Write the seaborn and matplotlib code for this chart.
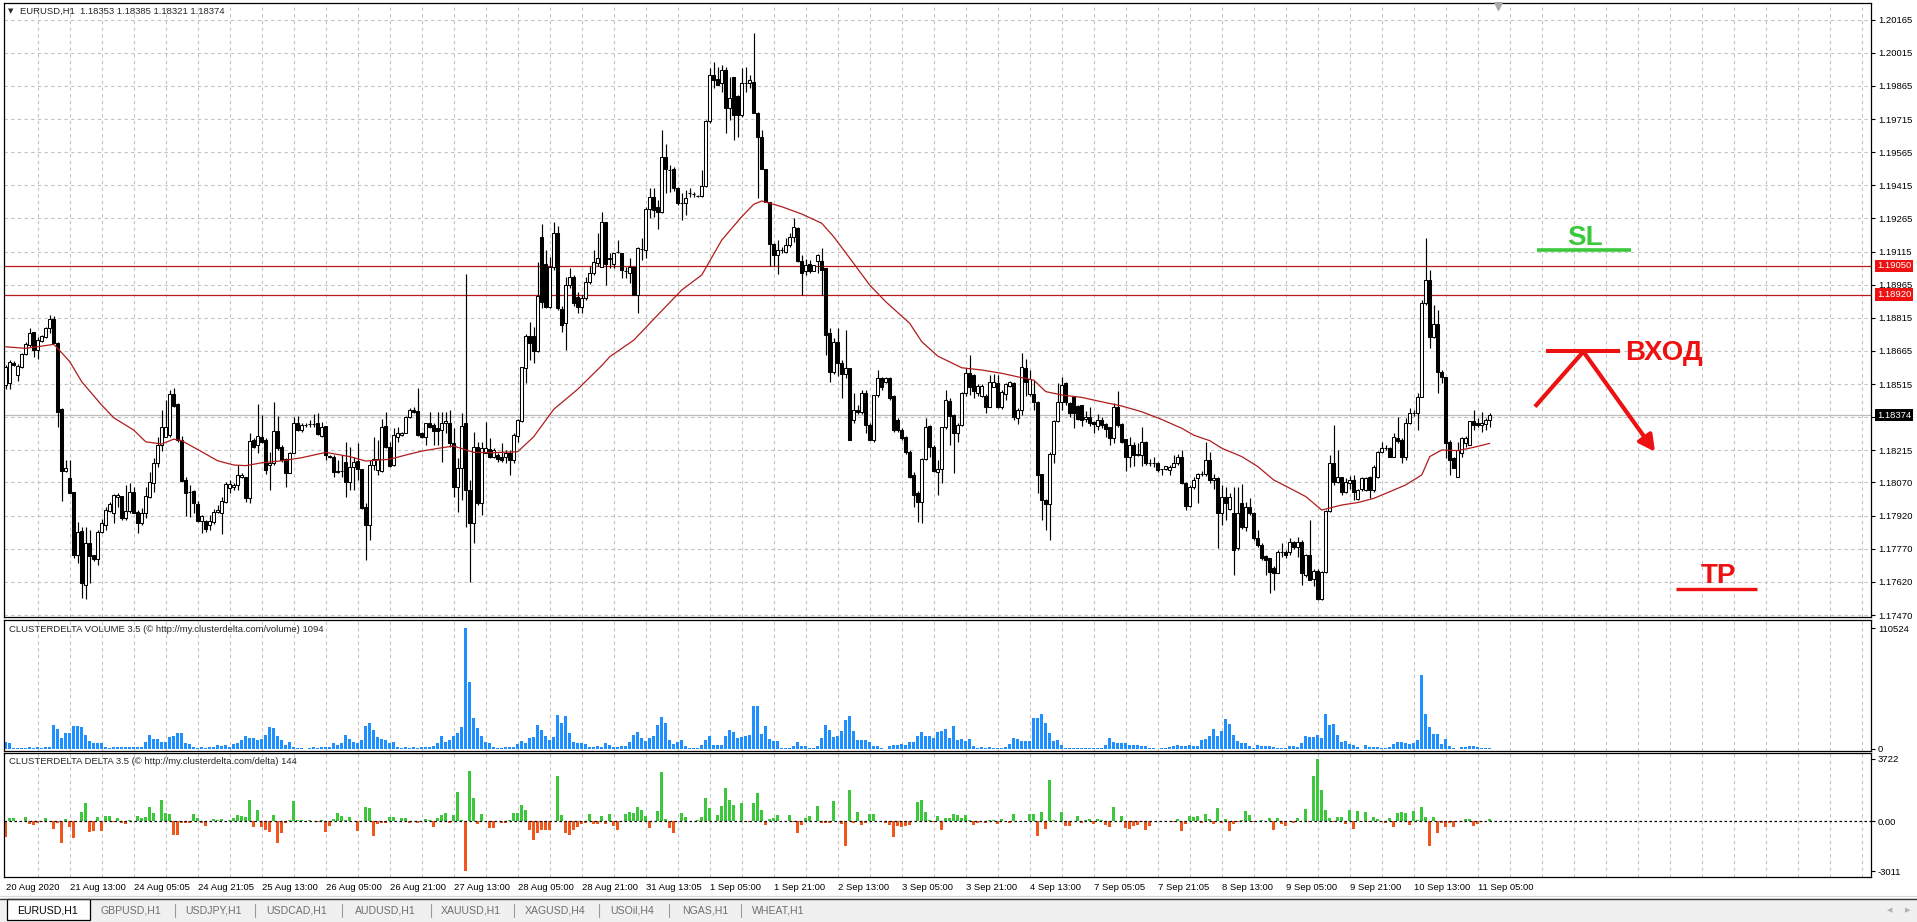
"""
EURUSD H1 (MT4 look) with ClusterDelta volume / delta sub-windows.
Prices are kept as points above 1.17000 (1 point = 0.00001).
Output: out.png
"""
import numpy as np
import matplotlib
matplotlib.use("Agg")
import matplotlib.pyplot as plt
import matplotlib.transforms as mtransforms
from matplotlib.patches import Rectangle
import seaborn as sns

# ── data ─────────────────────────────────────────────────────────────────────
BASE = 1.17
PT = 1e-5

OPEN_PTS = [
    1511, 1518, 1612, 1556, 1591, 1651, 1692, 1752, 1669, 1712, 1730, 1767, 1808, 1703, 1402, 1123,
    1091, 1027, 741, 852, 606, 794, 740, 722, 847, 877, 941, 930, 1005, 1008, 907, 942,
    1027, 938, 885, 930, 1005, 1069, 1156, 1239, 1277, 1285, 1470, 1423, 1262, 1081, 1025, 1030,
    971, 897, 897, 877, 892, 938, 933, 980, 1043, 1051, 1058, 1096, 1093, 998, 1262, 1239,
    1277, 1262, 1149, 1159, 1303, 1232, 1175, 1114, 1205, 1340, 1307, 1330, 1333, 1335, 1338, 1280,
    1326, 1190, 1184, 1123, 1120, 1164, 1074, 1141, 1167, 1129, 960, 877, 1149, 1128, 1123, 1326,
    1232, 1149, 1277, 1285, 1295, 1365, 1398, 1395, 1292, 1277, 1338, 1330, 1315, 1307, 1338, 1341,
    1250, 1051, 1134, 1338, 1036, 885, 1232, 975, 1205, 1220, 1187, 1194, 1184, 1184, 1202, 1172,
    1280, 1350, 1587, 1733, 1733, 1667, 2180, 2060, 1866, 2047, 2200, 1854, 1790, 1964, 2002, 1910,
    1866, 1903, 1979, 2017, 2062, 2046, 2250, 2080, 2061, 2114, 2110, 2028, 2016, 2046, 1918, 2125,
    2122, 2307, 2363, 2318, 2295, 2541, 2484, 2488, 2401, 2336, 2333, 2381, 2375, 2366, 2366, 2412,
    2706, 2914, 2894, 2876, 2937, 2763, 2906, 2819, 2733, 2876, 2876, 2884, 2740, 2635, 2491, 2341,
    2149, 2099, 2122, 2114, 2144, 2179, 2220, 2074, 2028, 2057, 2028, 2073, 2073, 2039, 1745, 1571,
    1707, 1609, 1563, 1586, 1352, 1400, 1390, 1476, 1330, 1262, 1466, 1545, 1525, 1541, 1461, 1352,
    1307, 1277, 1209, 1103, 1020, 983, 1174, 1325, 1232, 1118, 1129, 1319, 1440, 1375, 1295, 1330,
    1473, 1567, 1556, 1473, 1461, 1461, 1413, 1503, 1521, 1410, 1470, 1508, 1521, 1360, 1400, 1586,
    1470, 1470, 1435, 1108, 990, 971, 1201, 1348, 1435, 1518, 1428, 1455, 1416, 1420, 1355, 1367,
    1345, 1325, 1352, 1334, 1319, 1269, 1410, 1334, 1265, 1183, 1239, 1194, 1194, 1254, 1159, 1159,
    1159, 1130, 1129, 1126, 1141, 1156, 1186, 1069, 963, 1051, 1089, 1108, 1108, 1172, 1081, 1089,
    933, 1006, 948, 933, 772, 976, 870, 960, 930, 817, 787, 737, 727, 681, 662, 757,
    757, 757, 802, 779, 802, 651, 742, 631, 671, 541, 666, 941, 1157, 1074, 1093, 1028,
    1068, 1081, 994, 1040, 1036, 1096, 1036, 1096, 1209, 1225, 1225, 1187, 1270, 1262, 1187, 1338,
    1383, 1386, 1458, 1881, 1987, 1730, 1787, 1572, 1549, 1255, 1179, 1093, 1202, 1247, 1240, 1348,
    1338, 1330, 1334, 1353,
]
HIGH_PTS = [
    1601, 1624, 1621, 1606, 1654, 1707, 1767, 1752, 1730, 1737, 1775, 1828, 1823, 1707, 1405, 1171,
    1171, 1027, 892, 870, 870, 855, 741, 855, 903, 960, 983, 1018, 1021, 1008, 1058, 1066,
    1051, 945, 953, 1051, 1119, 1179, 1277, 1398, 1443, 1488, 1496, 1431, 1282, 1096, 1058, 1036,
    987, 923, 900, 923, 950, 968, 1006, 1073, 1081, 1069, 1149, 1111, 1096, 1292, 1270, 1425,
    1375, 1270, 1209, 1436, 1371, 1239, 1179, 1209, 1368, 1371, 1337, 1337, 1352, 1381, 1386, 1345,
    1326, 1194, 1194, 1172, 1194, 1255, 1232, 1187, 1250, 1129, 975, 1172, 1277, 1262, 1356, 1390,
    1255, 1315, 1322, 1300, 1371, 1405, 1413, 1496, 1300, 1341, 1390, 1338, 1390, 1390, 1390, 1398,
    1315, 1179, 1386, 2014, 1081, 1300, 1255, 1255, 1345, 1270, 1224, 1202, 1247, 1217, 1217, 1292,
    1356, 1594, 1742, 1798, 1775, 2070, 2240, 2120, 2090, 2250, 2230, 1870, 2000, 2040, 2010, 1930,
    1920, 2000, 2050, 2120, 2200, 2295, 2250, 2107, 2110, 2167, 2110, 2046, 2088, 2046, 2135, 2175,
    2318, 2401, 2401, 2348, 2665, 2602, 2506, 2499, 2408, 2378, 2393, 2401, 2386, 2370, 2484, 2710,
    2944, 2974, 2952, 2959, 2952, 2906, 2906, 2823, 2944, 2952, 2914, 3103, 2748, 2665, 2491, 2341,
    2152, 2167, 2137, 2175, 2197, 2265, 2227, 2099, 2080, 2076, 2054, 2105, 2129, 2039, 1767, 1722,
    1767, 1624, 1760, 1586, 1473, 1420, 1488, 1488, 1337, 1466, 1579, 1548, 1548, 1548, 1466, 1360,
    1315, 1280, 1215, 1118, 1030, 1180, 1360, 1330, 1239, 1171, 1322, 1488, 1450, 1382, 1340, 1480,
    1586, 1647, 1563, 1515, 1515, 1470, 1556, 1563, 1556, 1488, 1518, 1530, 1525, 1405, 1657, 1631,
    1579, 1533, 1440, 1110, 995, 1209, 1352, 1518, 1548, 1526, 1432, 1461, 1420, 1420, 1395, 1410,
    1348, 1380, 1367, 1337, 1322, 1431, 1485, 1337, 1268, 1277, 1254, 1250, 1319, 1258, 1174, 1186,
    1162, 1132, 1146, 1149, 1194, 1198, 1216, 1072, 1058, 1096, 1111, 1120, 1255, 1209, 1110, 1095,
    1060, 1050, 1020, 1050, 1050, 1063, 980, 998, 935, 855, 795, 742, 730, 690, 764, 795,
    764, 817, 805, 825, 810, 745, 900, 680, 680, 670, 945, 1194, 1330, 1217, 1096, 1089,
    1100, 1104, 1040, 1095, 1095, 1100, 1149, 1213, 1255, 1240, 1230, 1295, 1368, 1270, 1360, 1405,
    1400, 1473, 1896, 2175, 2032, 1873, 1851, 1579, 1549, 1262, 1187, 1255, 1277, 1280, 1350, 1398,
    1360, 1390, 1360, 1385,
]
LOW_PTS = [
    1491, 1491, 1597, 1531, 1586, 1647, 1684, 1639, 1627, 1707, 1722, 1745, 1700, 1322, 987, 1119,
    1021, 726, 704, 545, 541, 613, 716, 696, 842, 855, 938, 885, 960, 900, 900, 930,
    930, 842, 877, 907, 998, 1025, 1141, 1214, 1277, 1277, 1413, 1254, 1073, 918, 915, 930,
    892, 839, 847, 855, 880, 933, 837, 975, 1021, 1036, 1036, 1089, 983, 978, 1224, 1202,
    1247, 1108, 1036, 1149, 1217, 1164, 1051, 1111, 1202, 1304, 1300, 1322, 1322, 1322, 1285, 1277,
    1172, 1179, 1096, 1111, 1096, 1006, 1036, 1036, 1081, 948, 719, 809, 1126, 1104, 1119, 1224,
    1141, 1144, 1255, 1280, 1292, 1360, 1383, 1280, 1270, 1240, 1315, 1240, 1240, 1164, 1292, 1232,
    1006, 938, 991, 870, 621, 794, 968, 923, 1205, 1179, 1179, 1164, 1164, 1156, 1104, 1156,
    1255, 1345, 1519, 1624, 1609, 1662, 1858, 1858, 1860, 2030, 1850, 1753, 1670, 1950, 1870, 1836,
    1836, 1895, 1970, 2010, 2050, 2046, 1963, 2039, 2039, 2107, 1994, 1994, 1971, 1918, 1838, 2077,
    2088, 2265, 2273, 2216, 2288, 2378, 2386, 2390, 2326, 2258, 2280, 2363, 2363, 2360, 2363, 2408,
    2695, 2854, 2869, 2839, 2650, 2710, 2620, 2635, 2725, 2839, 2854, 2744, 2356, 2487, 2341, 2049,
    2049, 2013, 2107, 2107, 2137, 2160, 2069, 1918, 2009, 2016, 2028, 2016, 1918, 1646, 1526, 1563,
    1551, 1450, 1541, 1262, 1340, 1380, 1380, 1292, 1260, 1255, 1458, 1490, 1520, 1443, 1300, 1300,
    1262, 1201, 1088, 960, 892, 885, 1171, 1186, 1118, 1013, 1066, 1310, 1239, 1111, 1254, 1325,
    1461, 1466, 1450, 1461, 1458, 1386, 1410, 1503, 1405, 1401, 1443, 1500, 1352, 1334, 1375, 1461,
    1461, 1398, 1020, 900, 854, 809, 1159, 1345, 1398, 1420, 1364, 1315, 1352, 1325, 1345, 1325,
    1292, 1307, 1315, 1277, 1239, 1247, 1322, 1247, 1123, 1141, 1144, 1190, 1144, 1149, 1144, 1141,
    1118, 1103, 1126, 1103, 1138, 1149, 1063, 945, 960, 1040, 975, 1100, 1100, 1066, 1040, 772,
    878, 900, 945, 651, 764, 860, 850, 922, 810, 780, 719, 651, 568, 583, 659, 734,
    727, 742, 770, 734, 606, 640, 629, 600, 538, 538, 660, 938, 1059, 1066, 1013, 1021,
    1040, 991, 990, 1030, 1030, 1000, 1028, 1089, 1202, 1215, 1187, 1184, 1247, 1157, 1172, 1335,
    1370, 1308, 1455, 1873, 1677, 1722, 1473, 1519, 1179, 1104, 1134, 1093, 1187, 1232, 1240, 1308,
    1320, 1300, 1308, 1321,
]
CLOSE_PTS = [
    1594, 1617, 1601, 1597, 1650, 1697, 1745, 1669, 1715, 1733, 1767, 1808, 1703, 1390, 1123, 1134,
    1024, 741, 847, 613, 794, 737, 722, 847, 885, 945, 971, 1013, 1013, 910, 942, 1027,
    933, 885, 933, 1008, 1070, 1156, 1239, 1322, 1322, 1470, 1416, 1262, 1078, 1024, 1025, 975,
    897, 918, 858, 895, 938, 945, 987, 1063, 1063, 1058, 1104, 1102, 998, 1259, 1232, 1282,
    1254, 1126, 1159, 1303, 1224, 1171, 1114, 1205, 1340, 1307, 1331, 1330, 1333, 1335, 1289, 1322,
    1194, 1184, 1116, 1119, 1122, 1074, 1141, 1164, 1129, 953, 877, 1149, 1175, 1175, 1322, 1232,
    1144, 1285, 1295, 1292, 1368, 1398, 1390, 1285, 1277, 1338, 1323, 1304, 1304, 1341, 1350, 1247,
    1051, 1134, 1326, 1036, 885, 1229, 975, 1224, 1224, 1184, 1217, 1174, 1172, 1205, 1172, 1285,
    1353, 1591, 1733, 1700, 1667, 1914, 1888, 1866, 2047, 2200, 1858, 1783, 1964, 2002, 1881, 1866,
    1903, 1979, 2017, 2070, 2085, 2250, 2061, 2088, 2110, 2114, 2031, 2028, 2046, 1918, 2129, 2125,
    2307, 2360, 2303, 2295, 2541, 2491, 2484, 2401, 2333, 2336, 2356, 2381, 2375, 2366, 2412, 2706,
    2914, 2891, 2869, 2937, 2763, 2808, 2733, 2733, 2876, 2876, 2891, 2744, 2635, 2487, 2341, 2149,
    2099, 2122, 2122, 2144, 2179, 2224, 2074, 2016, 2054, 2028, 2054, 2099, 2031, 1737, 1571, 1707,
    1609, 1563, 1586, 1262, 1400, 1390, 1476, 1330, 1262, 1466, 1541, 1503, 1545, 1450, 1307, 1307,
    1269, 1209, 1096, 1013, 983, 1174, 1322, 1229, 1123, 1130, 1319, 1443, 1370, 1295, 1330, 1476,
    1567, 1503, 1485, 1506, 1506, 1410, 1523, 1526, 1410, 1481, 1514, 1523, 1364, 1400, 1594, 1526,
    1536, 1435, 1103, 990, 971, 1201, 1348, 1435, 1511, 1435, 1386, 1386, 1355, 1352, 1367, 1340,
    1334, 1352, 1330, 1310, 1269, 1410, 1330, 1254, 1183, 1239, 1194, 1201, 1254, 1159, 1159, 1159,
    1126, 1129, 1144, 1141, 1156, 1186, 1066, 963, 1051, 1081, 1108, 1108, 1172, 1081, 1089, 930,
    1006, 976, 1003, 764, 930, 870, 960, 930, 817, 787, 727, 719, 666, 662, 757, 757,
    742, 802, 779, 802, 659, 742, 629, 671, 541, 666, 941, 1157, 1074, 1093, 1028, 1074,
    1081, 1028, 1036, 1089, 1089, 1036, 1142, 1209, 1225, 1225, 1187, 1277, 1259, 1187, 1338, 1386,
    1386, 1458, 1881, 1987, 1730, 1787, 1572, 1549, 1247, 1172, 1134, 1217, 1270, 1270, 1348, 1330,
    1330, 1341, 1353, 1374,
]

VOLUME = [
    6710, 5190, 610, 900, 1200, 1200, 1500, 1200, 1500, 1200, 1500, 2140, 21960, 18000, 9760, 14950,
    14340, 21050, 21050, 20440, 12810, 7630, 5190, 5800, 5190, 1530, 610, 1830, 2140, 1830, 2140, 1830,
    1530, 1530, 2140, 6710, 12810, 8850, 8850, 6710, 6710, 10680, 11900, 14950, 14950, 5800, 4580, 2140,
    610, 1530, 1220, 1830, 1530, 3660, 2750, 3660, 2140, 4270, 5190, 8240, 11900, 9760, 9760, 8240,
    8850, 12810, 19830, 18910, 11900, 8240, 3660, 6710, 2140, 1220, 610, 300, 920, 1530, 1220, 1830,
    1530, 2140, 5190, 3660, 5800, 12810, 8850, 6710, 5190, 8240, 21050, 23490, 17390, 10680, 8850, 8240,
    5800, 6710, 2140, 1220, 1530, 920, 1830, 1220, 2140, 1530, 1830, 2750, 5190, 11900, 6710, 8240,
    11900, 14340, 20440, 110524, 61610, 28060, 18910, 11900, 6710, 5800, 1530, 920, 1220, 1830, 1530, 2140,
    4580, 7630, 5190, 9760, 10680, 21960, 17390, 11900, 8240, 10680, 31110, 23490, 30200, 14340, 6710, 5800,
    5190, 4580, 1530, 2140, 2750, 2140, 5800, 3660, 2140, 2140, 2440, 2440, 6100, 13120, 15250, 10070,
    7020, 10070, 11590, 22270, 29300, 23800, 7930, 4880, 6100, 7930, 3050, 920, 920, 610, 3970, 7930,
    11590, 3970, 3970, 3970, 11590, 17700, 15250, 10070, 10980, 12200, 13120, 39650, 39650, 14030, 21350, 9150,
    7020, 7020, 920, 920, 920, 3050, 6100, 2440, 2440, 920, 920, 3050, 10070, 22270, 17080, 10980,
    12200, 16170, 26840, 29890, 16170, 8540, 8540, 7930, 6100, 3050, 3050, 610, 300, 3050, 3970, 3970,
    4880, 3970, 6100, 6100, 11590, 15250, 11590, 11590, 10070, 15250, 16170, 18300, 10070, 21350, 8540, 9150,
    7020, 9150, 2440, 1220, 1530, 1220, 1530, 920, 1220, 610, 1530, 4880, 10070, 9150, 7020, 7020,
    7020, 28370, 28370, 32330, 23800, 14640, 7020, 8540, 3970, 920, 1220, 1220, 920, 1220, 610, 920,
    1220, 610, 920, 3970, 10070, 6100, 5490, 5490, 5490, 3970, 3970, 3970, 3050, 2440, 610, 610,
    300, 610, 610, 1830, 3050, 3970, 3050, 2440, 3970, 2440, 2440, 7930, 9150, 12200, 18300, 12200,
    16170, 27450, 23180, 13120, 7020, 5490, 5490, 2440, 920, 3970, 3050, 2440, 3050, 1830, 920, 920,
    920, 2440, 3050, 2140, 5800, 11900, 10680, 11290, 12810, 10370, 31720, 21960, 22880, 12810, 6710, 7630,
    4580, 3660, 2140, 300, 3660, 2140, 2140, 1530, 610, 610, 2140, 4580, 6710, 6710, 5800, 4580,
    5190, 8240, 67760, 31720, 20440, 13730, 13730, 4580, 8850, 2750, 610, 300, 1530, 1530, 2750, 2750,
    1530, 610, 610, 1094,
]

DELTA = [
    -980, 160, 160, 0, 0, 220, -180, -260, -100, -60, 160, 0, -460, -100, -1340, 100,
    -340, -1000, 0, 540, 1100, -680, -620, 220, -580, 300, 300, -60, 160, -100, -180, 40,
    0, 300, 160, 260, 820, 500, 0, 1260, 460, 420, -860, -860, -100, -140, -100, 420,
    160, -100, -300, 0, 140, 80, 100, 0, 60, 160, 360, 300, 260, 1260, -340, 660,
    -340, -540, -640, 360, -1300, -740, -100, 60, 1200, 60, 40, -40, 60, 0, -60, 40,
    -640, -300, 100, 460, 300, 60, 260, 0, -580, 0, 860, 760, -900, -180, -140, -100,
    220, 260, 0, 160, 160, -100, 0, -140, 0, 100, 60, -380, 160, 360, 460, -100,
    360, 1720, 60, -3011, 3000, 1360, -180, 420, 0, -400, -400, 0, -100, -100, 60, 460,
    460, 960, 660, -540, -1140, -740, -540, -540, -540, 0, 2700, 360, -740, -840, -540, -380,
    -180, -100, 420, -180, -180, 300, -180, 420, -300, -540, 0, 420, 560, 460, 840, 640,
    320, -420, 0, 580, 2920, 120, -420, -720, 0, 480, 220, 0, 0, 40, 220, 1380,
    780, 0, 380, 920, 1980, 1280, 980, 0, 1080, -80, -80, 1080, 1680, 680, -260, 120,
    180, 380, 0, 0, 380, -80, -720, -220, 180, 280, 0, 920, -120, -120, -120, 1180,
    0, -160, -1480, 1880, -120, 520, -260, -120, 440, 440, 0, 0, -120, -220, -980, -320,
    -360, -320, -220, 0, 1120, 1280, 560, 80, -60, 320, -560, 180, 180, 440, 380, 180,
    380, 80, -260, -120, 0, -120, 80, 80, -160, 120, 0, -120, 440, 0, 0, -80,
    440, 440, -920, 520, -460, 2480, 80, 0, 560, -320, -320, 0, 280, -120, 80, 120,
    -160, 120, 80, -220, -380, 860, 0, 320, -420, -460, -320, -260, -80, -560, -280, 0,
    0, 0, 0, 0, -80, 140, -620, -180, 320, 240, 280, -120, 440, 140, -180, 760,
    -120, 140, -620, -160, -40, 80, 620, 380, -80, 0, 80, 0, 180, -520, 180, -160,
    -300, 0, -140, 160, 0, 700, -80, 2700, 3722, 1860, 660, 160, -80, 260, 260, -200,
    660, -460, 620, -60, 560, -60, 260, 120, -60, -100, 160, -340, 460, 540, 460, -240,
    620, 60, 860, 260, -1480, 260, -740, -140, -340, -140, -340, 0, -80, 100, 100, -280,
    -180, -80, 0, 144,
]

# moving average (red line), sampled at these bars
MA_BAR = [0, 5, 9, 12, 13, 16, 19, 24, 27, 32, 35, 39, 42, 44, 49, 53, 57, 60, 64, 69,
          74, 80, 86, 90, 96, 100, 104, 109, 112, 117, 122, 128, 132, 137, 143, 149, 151,
          157, 163, 169, 174, 179, 184, 187, 189, 194, 199, 204, 207, 212, 216, 220, 226,
          229, 233, 239, 244, 249, 253, 257, 260, 264, 269, 274, 279, 284, 289, 294, 297,
          301, 304, 309, 313, 317, 321, 325, 329, 334, 338, 342, 346, 350, 354, 356, 359,
          363, 367, 371]
MA_PTS = [1684, 1677, 1687, 1695, 1677, 1617, 1526, 1420, 1363, 1307, 1254, 1244, 1266, 1259,
          1209, 1168, 1149, 1146, 1159, 1168, 1182, 1206, 1187, 1167, 1175, 1194, 1212, 1227,
          1235, 1206, 1205, 1209, 1277, 1401, 1492, 1599, 1639, 1714, 1828, 1941, 2009, 2167,
          2273, 2329, 2344, 2318, 2285, 2243, 2182, 2061, 1963, 1888, 1790, 1707, 1642, 1589,
          1579, 1564, 1548, 1533, 1481, 1466, 1455, 1435, 1416, 1390, 1355, 1315, 1284, 1259,
          1225, 1187, 1142, 1081, 1044, 1006, 945, 968, 979, 998, 1028, 1059, 1104, 1187,
          1217, 1214, 1229, 1247]

PRICE_TICKS = [1.20165, 1.20015, 1.19865, 1.19715, 1.19565, 1.19415, 1.19265, 1.19115,
               1.18965, 1.18815, 1.18665, 1.18515, 1.18365, 1.18215, 1.18070, 1.17920,
               1.17770, 1.17620, 1.17470]
TIME_LABELS = ["20 Aug 2020", "21 Aug 13:00", "24 Aug 05:05", "24 Aug 21:05", "25 Aug 13:00",
               "26 Aug 05:00", "26 Aug 21:00", "27 Aug 13:00", "28 Aug 05:00", "28 Aug 21:00",
               "31 Aug 13:05", "1 Sep 05:00", "1 Sep 21:00", "2 Sep 13:00", "3 Sep 05:00",
               "3 Sep 21:00", "4 Sep 13:00", "7 Sep 05:05", "7 Sep 21:05", "8 Sep 13:00",
               "9 Sep 05:00", "9 Sep 21:00", "10 Sep 13:00", "11 Sep 05:00"]
LEVELS = [1.19050, 1.18920]
SL_PRICE, ENTRY_PRICE, TP_PRICE = 1.19122, 1.18665, 1.17586
TABS = ["EURUSD,H1", "GBPUSD,H1", "USDJPY,H1", "USDCAD,H1", "AUDUSD,H1",
        "XAUUSD,H1", "XAGUSD,H4", "USOil,H4", "NGAS,H1", "WHEAT,H1"]

# ── style ────────────────────────────────────────────────────────────────────
sns.set_theme(style="white")
plt.rcParams["font.family"] = ["Liberation Sans", "DejaVu Sans"]

W, H = 1917, 922
FS = 6.8
GRID = dict(color="#c2c2c2", ls=(0, (3, 3)), lw=0.8)
RED = "#ee1111"
GREEN = "#3cc83c"


def px_box(x0, y0, x1, y1):
    return [x0 / W, 1 - y1 / H, (x1 - x0) / W, (y1 - y0) / H]


def style_panel(a):
    a.set_facecolor("white")
    for s in a.spines.values():
        s.set_color("black")
        s.set_linewidth(0.9)
    a.set_xlim(-0.425, 466.3)
    a.set_xticks(np.arange(8, 467, 8), minor=True)
    a.xaxis.remove_overlapping_locs = False
    a.grid(axis="x", which="minor", **GRID)
    a.tick_params(axis="x", which="minor", length=0)
    a.yaxis.tick_right()
    a.tick_params(axis="y", which="major", direction="out", length=3, width=0.8,
                  pad=2, labelsize=FS, colors="black")
    a.set_axisbelow(True)
    a.set_xlabel("")
    a.set_ylabel("")


o = BASE + np.array(OPEN_PTS) * PT
h = BASE + np.array(HIGH_PTS) * PT
l = BASE + np.array(LOW_PTS) * PT
c = BASE + np.array(CLOSE_PTS) * PT
h = np.maximum(h, np.maximum(o, c))
l = np.minimum(l, np.minimum(o, c))
bars = np.arange(len(o))

fig = plt.figure(figsize=(W / 100, H / 100), dpi=100)
fig.patch.set_facecolor("white")
ax = fig.add_axes(px_box(4, 3, 1871, 617))
axv = fig.add_axes(px_box(4, 620, 1871, 750.5))
axd = fig.add_axes(px_box(4, 752.5, 1871, 876.5))

# ── price panel ──────────────────────────────────────────────────────────────
ax.axhline(c[-1], color="#bdbdbd", lw=0.9, zorder=1)
for lvl in LEVELS:
    ax.axhline(lvl, color="#bb1a1a", lw=0.9, zorder=2)

ax.vlines(bars, l, h, color="black", lw=0.85, zorder=3)
body_h = np.maximum(np.abs(c - o), 0.4 * PT)
ax.bar(bars, body_h, bottom=np.minimum(o, c), width=0.66,
       color=np.where(c > o, "white", "black"), edgecolor="black",
       linewidth=0.75, zorder=4)
sns.lineplot(x=MA_BAR, y=BASE + np.array(MA_PTS) * PT, color="#b01c1c",
             linewidth=0.9, ax=ax, zorder=5)

style_panel(ax)
ax.set_xticks([])
ax.set_ylim(1.174610, 1.202401)
ax.set_yticks(PRICE_TICKS)
ax.set_yticklabels([f"{t:.5f}" for t in PRICE_TICKS])
ax.grid(axis="y", which="major", **GRID)

# price boxes on the right scale
lab_tr = (mtransforms.blended_transform_factory(ax.transAxes, ax.transData)
          + mtransforms.ScaledTranslation(6 / 100, 0, fig.dpi_scale_trans))
for lvl in LEVELS:
    ax.text(1.0, lvl, f"{lvl:.5f}", transform=lab_tr, ha="left", va="center",
            fontsize=FS, color="white", zorder=10, clip_on=False,
            bbox=dict(boxstyle="square,pad=0.18", fc=RED, ec="none"))
ax.text(1.0, c[-1], f"{c[-1]:.5f}", transform=lab_tr, ha="left", va="center",
        fontsize=FS, color="white", zorder=10, clip_on=False,
        bbox=dict(boxstyle="square,pad=0.18", fc="black", ec="none"))

# chart shift marker
ax.scatter([len(bars) + 1], [0.995], marker="v", s=30, color="#a8a8a8",
           transform=mtransforms.blended_transform_factory(ax.transData, ax.transAxes),
           clip_on=False, zorder=6)

# hand-drawn trade idea
ax.plot([382.8, 406.3], [SL_PRICE, SL_PRICE], color=GREEN, lw=2.6, solid_capstyle="butt")
ax.text(394.8, 1.19145, "SL", color=GREEN, fontsize=20, fontweight="bold",
        ha="center", va="baseline")
ax.plot([385.1, 403.6], [ENTRY_PRICE, ENTRY_PRICE], color=RED, lw=2.9, solid_capstyle="butt")
ax.plot([382.3, 394.4], [1.18413, 1.18662], color=RED, lw=3, solid_capstyle="butt")
ax.annotate("", xy=(412.3, 1.18209), xytext=(394.4, 1.18662),
            arrowprops=dict(arrowstyle="-|>,head_length=0.95,head_width=0.5",
                            color=RED, lw=3, mutation_scale=10, shrinkA=0, shrinkB=0))
ax.text(414.5, 1.18624, "ВХОД", color=RED, fontsize=20, fontweight="bold",
        ha="center", va="baseline")
ax.plot([417.6, 437.8], [TP_PRICE, TP_PRICE], color=RED, lw=2.4, solid_capstyle="butt")
ax.text(428.2, 1.17614, "TP", color=RED, fontsize=20, fontweight="bold",
        ha="center", va="baseline")

# ── volume panel ─────────────────────────────────────────────────────────────
sns.barplot(x=bars, y=VOLUME, native_scale=True, orient="x", width=0.75,
            color="#1e90ff", saturation=1, errorbar=None, linewidth=0, ax=axv)
style_panel(axv)
axv.set_xticks([])
axv.set_ylim(-1374, 118124)
axv.set_yticks([0, max(VOLUME)])
axv.set_yticklabels(["0", str(max(VOLUME))])

# ── delta panel ──────────────────────────────────────────────────────────────
side = np.where(np.array(DELTA) >= 0, "buy", "sell")
sns.barplot(x=bars, y=DELTA, hue=side, palette={"buy": "#3cc83c", "sell": "#f0561e"},
            dodge=False, native_scale=True, orient="x", width=0.75, saturation=1,
            errorbar=None, legend=False, linewidth=0, ax=axd)
axd.axhline(0, color="black", ls=(0, (2, 2)), lw=0.9, zorder=5)
style_panel(axd)
axd.set_ylim(-3330, 4110)
axd.set_yticks([min(DELTA), 0, max(DELTA)])
axd.set_yticklabels([str(min(DELTA)), "0.00", str(max(DELTA))])
axd.set_xticks(np.arange(0, len(bars), 16))
axd.set_xticklabels(TIME_LABELS)
axd.tick_params(axis="x", which="major", direction="out", length=3, width=0.8,
                pad=1.5, labelsize=FS, colors="black")
for lab in axd.get_xticklabels():
    lab.set_ha("left")

# ── window texts ─────────────────────────────────────────────────────────────
fig.text(8 / W, 1 - 11.5 / H, "▼", fontsize=5, va="center", family=["DejaVu Sans"])
fig.text(20 / W, 1 - 11.7 / H,
         f"EURUSD,H1  {o[-1]:.5f} {h[-1]:.5f} {l[-1]:.5f} {c[-1]:.5f}",
         fontsize=FS, va="center")
fig.text(9 / W, 1 - 629.7 / H,
         f"CLUSTERDELTA VOLUME 3.5 (© http://my.clusterdelta.com/volume) {VOLUME[-1]}",
         fontsize=FS, va="center")
fig.text(9 / W, 1 - 761.7 / H,
         f"CLUSTERDELTA DELTA 3.5 (© http://my.clusterdelta.com/delta) {DELTA[-1]}",
         fontsize=FS, va="center")

# ── symbol tabs ──────────────────────────────────────────────────────────────
tb = fig.add_axes([0, 0, 1, 24 / H])
tb.set_xlim(0, W)
tb.set_ylim(H, H - 24)
tb.axis("off")
tb.add_patch(Rectangle((0, H - 24), W, 24, fc="#f0f0f0", ec="none"))
tb.plot([0, W], [899.5, 899.5], color="#3a3a3a", lw=1.0)
tb.add_patch(Rectangle((7, 899.5), 83, 21, fc="white", ec="black", lw=0.9))
tab_x = [48, 131, 214, 297, 385, 471, 555, 632, 705, 778]
for i, (name, tx) in enumerate(zip(TABS, tab_x)):
    tb.text(tx, 910.5, name, ha="center", va="center", fontsize=7.6,
            color="black" if i == 0 else "#6e6e6e")
for sx in [175, 255, 342, 431, 514, 599, 669, 741]:
    tb.plot([sx, sx], [904, 917], color="#9a9a9a", lw=0.8)
tb.text(1890, 910.5, "◀", ha="center", va="center", fontsize=5, color="#b0b0b0",
        family=["DejaVu Sans"])
tb.text(1908, 910.5, "▶", ha="center", va="center", fontsize=5, color="#b0b0b0",
        family=["DejaVu Sans"])
fig.add_artist(plt.Line2D([0, 1], [1 - 896 / H, 1 - 896 / H], color="#d8d8d8", lw=0.8))

fig.savefig("out.png", dpi=100)
